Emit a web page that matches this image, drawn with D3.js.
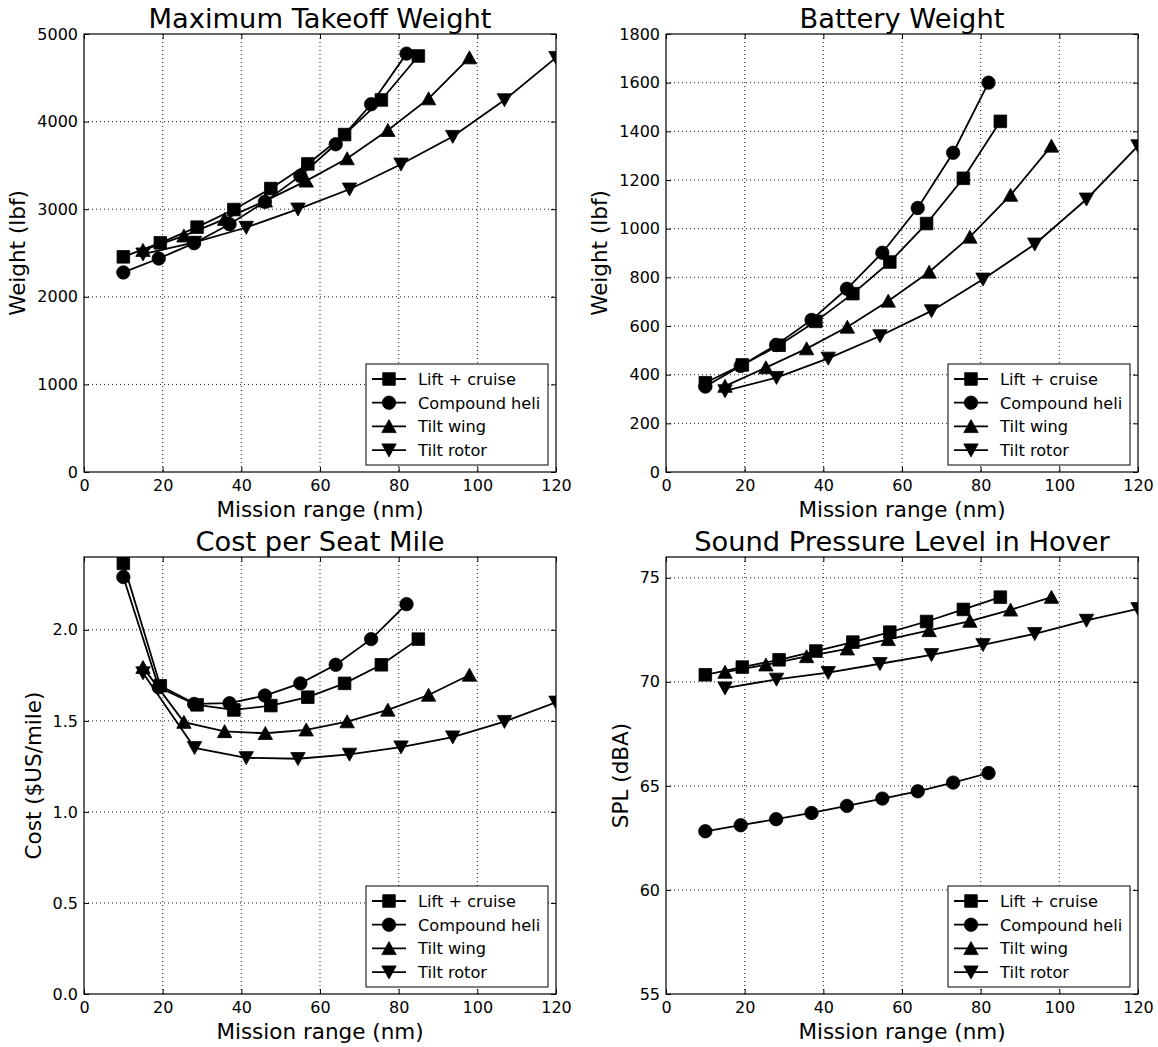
<!DOCTYPE html>
<html>
<head>
<meta charset="utf-8">
<script src="https://cdn.jsdelivr.net/npm/d3@7"></script>
<style>
  body { margin: 0; background: #fff; }
  svg { font-family: "DejaVu Sans", sans-serif; }
</style>
</head>
<body>
<div id="chart"></div>
<script>
var width = 1158;
var height = 1047;

// Mission range (nm) of each design point, per configuration
var rangeLiftCruise = [10, 19.4, 28.75, 38.1, 47.5, 56.9, 66.25, 75.6, 85];
var rangeCompound = [10, 19, 28, 37, 46, 55, 64, 73, 82];
var rangeTiltWing = [15, 25.4, 35.75, 46.1, 56.5, 66.9, 77.25, 87.6, 98];
var rangeTiltRotor = [15, 28.1, 41.25, 54.4, 67.5, 80.6, 93.75, 106.9, 120];

var seriesNames = ["Lift + cruise", "Compound heli", "Tilt wing", "Tilt rotor"];
var seriesMarkers = ["square", "circle", "up", "down"];

// Maximum takeoff weight (lbf)
var mtowLiftCruise = [2456, 2616, 2795, 2996, 3236, 3517, 3852, 4247, 4749];
var mtowCompound = [2278, 2437, 2612, 2829, 3084, 3380, 3741, 4198, 4776];
var mtowTiltWing = [2532, 2696, 2886, 3095, 3323, 3578, 3901, 4262, 4730];
var mtowTiltRotor = [2487, 2620, 2791, 3000, 3228, 3513, 3829, 4247, 4730];

// Battery weight (lbf)
var batteryLiftCruise = [367, 440, 521, 619, 733, 863, 1021, 1207, 1441];
var batteryCompound = [351, 436, 522, 625, 753, 901, 1085, 1312, 1600];
var batteryTiltWing = [353, 429, 507, 596, 703, 822, 966, 1138, 1340];
var batteryTiltRotor = [333, 388, 467, 559, 662, 792, 936, 1121, 1340];

// Cost per seat mile ($US/mile)
var costLiftCruise = [2.365, 1.693, 1.588, 1.560, 1.584, 1.630, 1.706, 1.808, 1.949];
var costCompound = [2.290, 1.684, 1.593, 1.597, 1.639, 1.706, 1.808, 1.949, 2.141];
var costTiltWing = [1.794, 1.493, 1.442, 1.432, 1.451, 1.496, 1.560, 1.642, 1.752];
var costTiltRotor = [1.763, 1.352, 1.297, 1.292, 1.316, 1.356, 1.411, 1.496, 1.602];

// Sound pressure level in hover (dBA)
var splLiftCruise = [70.34, 70.71, 71.06, 71.48, 71.91, 72.39, 72.90, 73.48, 74.07];
var splCompound = [62.82, 63.11, 63.40, 63.70, 64.04, 64.39, 64.74, 65.16, 65.62];
var splTiltWing = [70.47, 70.82, 71.22, 71.59, 72.04, 72.47, 72.92, 73.46, 74.07];
var splTiltRotor = [69.70, 70.12, 70.44, 70.87, 71.30, 71.78, 72.31, 72.95, 73.51];

// Tick values
var xTicks = [0, 20, 40, 60, 80, 100, 120];
var mtowTicks = [0, 1000, 2000, 3000, 4000, 5000];
var batteryTicks = [0, 200, 400, 600, 800, 1000, 1200, 1400, 1600, 1800];
var costTicks = [0, 0.5, 1.0, 1.5, 2.0];
var splTicks = [55, 60, 65, 70, 75];

var ranges = [rangeLiftCruise, rangeCompound, rangeTiltWing, rangeTiltRotor];

var panels = [
  { title: "Maximum Takeoff Weight", ylabel: "Weight (lbf)", left: 84, top: 34, h: 438,
    yDomain: [0, 5000], yTicks: mtowTicks, fmt: d3.format("d"),
    values: [mtowLiftCruise, mtowCompound, mtowTiltWing, mtowTiltRotor] },
  { title: "Battery Weight", ylabel: "Weight (lbf)", left: 666, top: 34, h: 438,
    yDomain: [0, 1800], yTicks: batteryTicks, fmt: d3.format("d"),
    values: [batteryLiftCruise, batteryCompound, batteryTiltWing, batteryTiltRotor] },
  { title: "Cost per Seat Mile", ylabel: "Cost ($US/mile)", left: 84, top: 557, h: 437,
    yDomain: [0, 2.4], yTicks: costTicks, fmt: d3.format(".1f"),
    values: [costLiftCruise, costCompound, costTiltWing, costTiltRotor] },
  { title: "Sound Pressure Level in Hover", ylabel: "SPL (dBA)", left: 666, top: 557, h: 437,
    yDomain: [55, 76], yTicks: splTicks, fmt: d3.format("d"),
    values: [splLiftCruise, splCompound, splTiltWing, splTiltRotor] }
];

var plotWidth = 472;

// Marker shapes in the matplotlib style
function markerPath(kind) {
  if (kind == "square") return "M-6.3,-6.3h12.6v12.6h-12.6z";
  if (kind == "up") return "M0,-6.8L7.2,6.2L-7.2,6.2Z";
  if (kind == "down") return "M0,6.8L7.2,-6.2L-7.2,-6.2Z";
  return null;
}

function addMarker(sel, kind) {
  if (kind == "circle") {
    sel.append("circle").attr("r", 6.7);
  } else {
    sel.append("path").attr("d", markerPath(kind));
  }
}

var svg = d3.select("#chart").append("svg")
    .attr("width", width)
    .attr("height", height);

svg.append("rect").attr("width", width).attr("height", height).attr("fill", "#fff");

panels.forEach(function(p, pi) {
  var w = plotWidth, h = p.h;
  var x = d3.scaleLinear().domain([0, 120]).range([0, w]);
  var y = d3.scaleLinear().domain(p.yDomain).range([h, 0]);

  var g = svg.append("g").attr("transform", "translate(" + p.left + "," + p.top + ")");

  // Dotted grid
  var grid = g.append("g")
      .attr("stroke", "#000")
      .attr("stroke-width", 0.9)
      .attr("stroke-dasharray", "1,3");
  grid.selectAll("line.vx").data(xTicks.slice(1, -1)).enter().append("line")
      .attr("x1", d => x(d)).attr("x2", d => x(d))
      .attr("y1", 0).attr("y2", h);
  grid.selectAll("line.hy").data(p.yTicks.filter(d => y(d) > 1 && y(d) < h - 1)).enter().append("line")
      .attr("x1", 0).attr("x2", w)
      .attr("y1", d => y(d)).attr("y2", d => y(d));

  // Axes with inward ticks on all four sides
  var bottom = g.append("g").attr("transform", "translate(0," + h + ")")
      .call(d3.axisBottom(x).tickValues(xTicks).tickSizeInner(-5).tickSizeOuter(0).tickPadding(8));
  var left = g.append("g")
      .call(d3.axisLeft(y).tickValues(p.yTicks).tickFormat(p.fmt).tickSizeInner(-5).tickSizeOuter(0).tickPadding(6));
  g.append("g")
      .call(d3.axisTop(x).tickValues(xTicks).tickFormat("").tickSizeInner(-5).tickSizeOuter(0));
  g.append("g").attr("transform", "translate(" + w + ",0)")
      .call(d3.axisRight(y).tickValues(p.yTicks).tickFormat("").tickSizeInner(-5).tickSizeOuter(0));
  g.selectAll(".domain").remove();
  g.selectAll(".tick line").attr("stroke", "#000").attr("stroke-width", 1);
  g.selectAll(".tick text")
      .attr("fill", "#000")
      .style("font-family", "DejaVu Sans")
      .style("font-size", "16px");

  // Series lines and markers, clipped to the axes
  var clipId = "clip" + pi;
  g.append("clipPath").attr("id", clipId)
    .append("rect").attr("width", w).attr("height", h);
  var plot = g.append("g").attr("clip-path", "url(#" + clipId + ")");

  var line = d3.line().x(d => x(d[0])).y(d => y(d[1]));

  p.values.forEach(function(vals, si) {
    var pts = d3.zip(ranges[si], vals);
    var sg = plot.append("g");
    sg.append("path")
        .datum(pts)
        .attr("d", line)
        .attr("fill", "none")
        .attr("stroke", "#000")
        .attr("stroke-width", 1.8);
    sg.selectAll("g.pt").data(pts).enter().append("g")
        .attr("class", "pt")
        .attr("transform", d => "translate(" + x(d[0]) + "," + y(d[1]) + ")")
        .attr("fill", "#000")
        .attr("stroke", "#000")
        .attr("stroke-width", 0.8)
        .each(function() { addMarker(d3.select(this), seriesMarkers[si]); });
  });

  // Frame
  g.append("rect")
      .attr("width", w).attr("height", h)
      .attr("fill", "none")
      .attr("stroke", "#000")
      .attr("stroke-width", 1.2);

  // Title
  g.append("text")
      .attr("x", w / 2).attr("y", -6)
      .attr("text-anchor", "middle")
      .style("font-size", "27.3px")
      .text(p.title);

  // X label
  g.append("text")
      .attr("x", w / 2).attr("y", h + 45)
      .attr("text-anchor", "middle")
      .style("font-size", "21.5px")
      .text("Mission range (nm)");

  // Y label, placed left of the widest tick label
  var maxTickWidth = d3.max(left.selectAll(".tick text").nodes(), n => n.getComputedTextLength());
  g.append("text")
      .attr("transform", "translate(" + (-6 - maxTickWidth - 12) + "," + (h / 2) + ") rotate(-90)")
      .attr("text-anchor", "middle")
      .style("font-size", "21.5px")
      .text(p.ylabel);

  // Legend in the lower right corner
  var lw = 182, lh = 101;
  var legend = g.append("g").attr("transform", "translate(" + (w - 8 - lw) + "," + (h - 7 - lh) + ")");
  legend.append("rect")
      .attr("width", lw).attr("height", lh)
      .attr("fill", "#fff")
      .attr("stroke", "#000")
      .attr("stroke-width", 1);
  seriesNames.forEach(function(name, si) {
    var ry = 15 + si * 23.7;
    var row = legend.append("g").attr("transform", "translate(0," + ry + ")");
    row.append("line")
        .attr("x1", 6).attr("x2", 40)
        .attr("stroke", "#000").attr("stroke-width", 1.8);
    var m = row.append("g")
        .attr("transform", "translate(23,0)")
        .attr("fill", "#000").attr("stroke", "#000").attr("stroke-width", 0.8);
    addMarker(m, seriesMarkers[si]);
    row.append("text")
        .attr("x", 52).attr("y", 6)
        .style("font-size", "16.2px")
        .text(name);
  });
});
</script>
</body>
</html>
